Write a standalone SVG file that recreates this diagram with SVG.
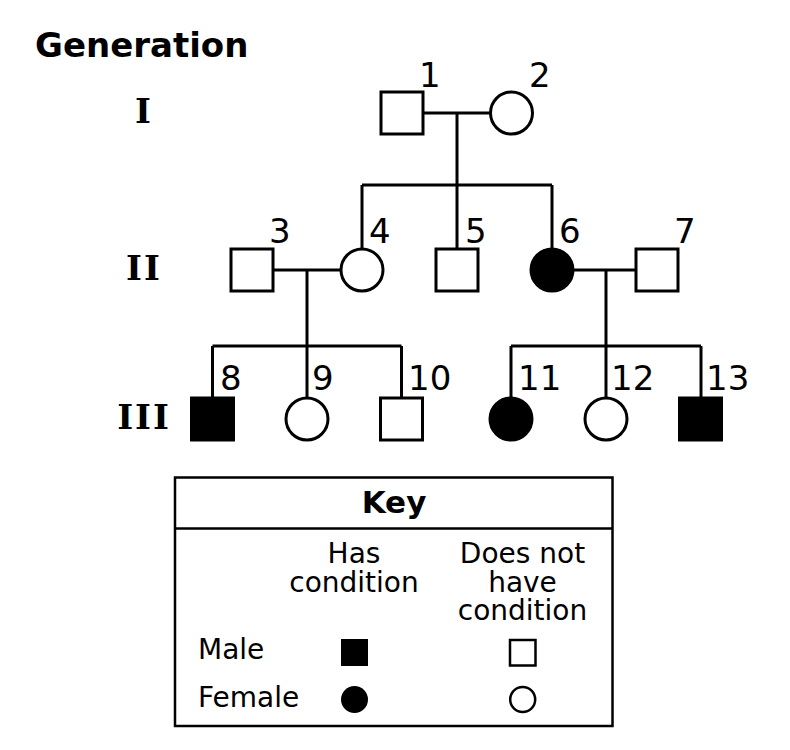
<svg xmlns="http://www.w3.org/2000/svg" width="790" height="750" viewBox="0 0 790 750">
<style>
.ln{stroke:#000;stroke-width:3;fill:none}
.open{fill:#fff;stroke:#000;stroke-width:3}
.fill{fill:#000;stroke:#000;stroke-width:3}
.num{font-family:"DejaVu Sans",Verdana,sans-serif;font-size:34px;fill:#000}
.gen{font-family:"DejaVu Serif","Liberation Serif",serif;font-weight:bold;font-size:34px;fill:#000;text-anchor:middle;letter-spacing:2px}
.title{font-family:"DejaVu Sans",Verdana,sans-serif;font-weight:bold;font-size:34px;fill:#000}
.key{font-family:"DejaVu Sans",Verdana,sans-serif;font-size:28px;fill:#000}
.mid{text-anchor:middle}
</style>
<rect width="790" height="750" fill="#fff"/>
<text class="title" x="35" y="57">Generation</text>
<text class="gen" x="144" y="123">I</text>
<text class="gen" x="144" y="280">II</text>
<text class="gen" x="144" y="429">III</text>
<g id="connectors" class="ln">
<line x1="423" y1="113" x2="490" y2="113"/>
<line x1="457" y1="113" x2="457" y2="185"/>
<line x1="362" y1="185" x2="552" y2="185"/>
<line x1="362" y1="185" x2="362" y2="249"/>
<line x1="457" y1="185" x2="457" y2="249"/>
<line x1="552" y1="185" x2="552" y2="249"/>
<line x1="273" y1="270" x2="341" y2="270"/>
<line x1="307" y1="270" x2="307" y2="346"/>
<line x1="212.5" y1="346" x2="401.5" y2="346"/>
<line x1="212.5" y1="346" x2="212.5" y2="398"/>
<line x1="307" y1="346" x2="307" y2="398"/>
<line x1="401.5" y1="346" x2="401.5" y2="398"/>
<line x1="573" y1="270" x2="636" y2="270"/>
<line x1="606" y1="270" x2="606" y2="346"/>
<line x1="511" y1="346" x2="701" y2="346"/>
<line x1="511" y1="346" x2="511" y2="398"/>
<line x1="606" y1="346" x2="606" y2="398"/>
<line x1="701" y1="346" x2="701" y2="398"/>
</g>
<g id="n1"><rect class="open" x="381" y="92" width="42" height="42"/><text class="num" x="419" y="87">1</text></g>
<g id="n2"><circle class="open" cx="511.5" cy="113" r="21"/><text class="num" x="529" y="87">2</text></g>
<g id="n3"><rect class="open" x="231" y="249" width="42" height="42"/><text class="num" x="269" y="243">3</text></g>
<g id="n4"><circle class="open" cx="362" cy="270" r="21"/><text class="num" x="369" y="243">4</text></g>
<g id="n5"><rect class="open" x="436" y="249" width="42" height="42"/><text class="num" x="465" y="243">5</text></g>
<g id="n6"><circle class="fill" cx="552" cy="270" r="21"/><text class="num" x="559" y="243">6</text></g>
<g id="n7"><rect class="open" x="636" y="249" width="42" height="42"/><text class="num" x="674" y="243">7</text></g>
<g id="n8"><rect class="fill" x="191.5" y="398" width="42" height="42"/><text class="num" x="220" y="390">8</text></g>
<g id="n9"><circle class="open" cx="307" cy="419" r="21"/><text class="num" x="312" y="390">9</text></g>
<g id="n10"><rect class="open" x="380.5" y="398" width="42" height="42"/><text class="num" x="408" y="390">10</text></g>
<g id="n11"><circle class="fill" cx="511" cy="419" r="21"/><text class="num" x="518" y="390">11</text></g>
<g id="n12"><circle class="open" cx="606" cy="419" r="21"/><text class="num" x="611" y="390">12</text></g>
<g id="n13"><rect class="fill" x="679.5" y="398" width="42" height="42"/><text class="num" x="706" y="390">13</text></g>
<g id="key">
<rect x="175" y="477.5" width="437.5" height="248.5" fill="none" stroke="#000" stroke-width="2.5"/>
<line x1="175" y1="528.5" x2="612.5" y2="528.5" stroke="#000" stroke-width="2.5"/>
<text class="title mid" x="394" y="513" style="font-size:31px">Key</text>
<text class="key mid" x="354" y="563">Has</text>
<text class="key mid" x="354" y="591.5">condition</text>
<text class="key mid" x="522.5" y="563">Does not</text>
<text class="key mid" x="522.5" y="591.5">have</text>
<text class="key mid" x="522.5" y="620">condition</text>
<text class="key" x="198" y="659">Male</text>
<text class="key" x="198" y="707">Female</text>
<rect x="341" y="639" width="27" height="27" fill="#000"/>
<rect x="510" y="640" width="25.5" height="25.5" fill="#fff" stroke="#000" stroke-width="2.5"/>
<circle cx="354.5" cy="699.5" r="13.5" fill="#000"/>
<circle cx="522.7" cy="699.5" r="12.5" fill="#fff" stroke="#000" stroke-width="2.5"/>
</g>
</svg>
